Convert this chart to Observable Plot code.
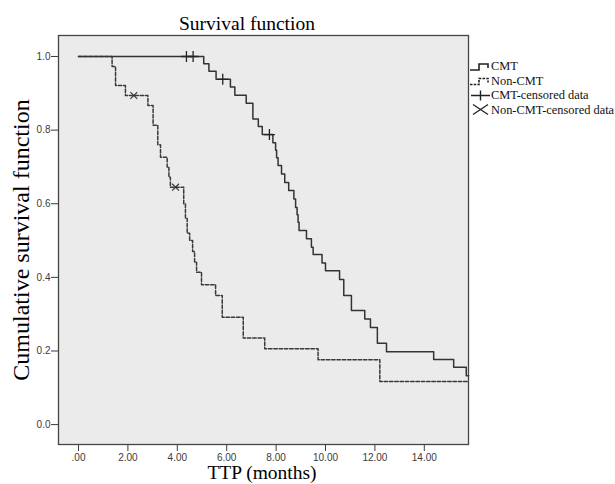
<!DOCTYPE html>
<html>
<head>
<meta charset="utf-8">
<script src="https://cdn.jsdelivr.net/npm/d3@7"></script>
<script src="https://cdn.jsdelivr.net/npm/@observablehq/plot@0.6"></script>
<style>
  html, body { margin: 0; padding: 0; background: #fff; }
  #wrap { position: relative; width: 615px; height: 484px; overflow: hidden; }
  #wrap svg.overlay { position: absolute; left: 0; top: 0; pointer-events: none; }
</style>
</head>
<body>
<div id="wrap"></div>
<script>
// ---- Data ----
const cmtTime = [0, 5.07, 5.28, 5.57, 6.15, 6.33, 6.79, 7.06, 7.28, 7.44, 7.87, 7.98, 8.02, 8.08, 8.22, 8.35, 8.51, 8.72, 8.79, 8.85, 8.89, 8.93, 9.23, 9.43, 9.50, 9.86, 10.0, 10.57, 10.74, 11.05, 11.59, 11.82, 12.1, 12.47, 14.38, 15.19, 15.70, 15.8];
const cmtSurv = [1.0, 0.98, 0.96, 0.938, 0.917, 0.895, 0.873, 0.83, 0.81, 0.788, 0.766, 0.745, 0.725, 0.704, 0.681, 0.658, 0.636, 0.613, 0.59, 0.57, 0.55, 0.527, 0.505, 0.482, 0.462, 0.439, 0.418, 0.394, 0.351, 0.310, 0.287, 0.264, 0.221, 0.198, 0.177, 0.156, 0.133, 0.133];

const nonTime = [0, 1.36, 1.50, 1.90, 2.81, 3.02, 3.21, 3.32, 3.59, 3.66, 3.72, 4.26, 4.33, 4.40, 4.50, 4.62, 4.70, 4.78, 4.98, 5.55, 5.82, 6.67, 7.54, 9.70, 12.2, 15.8];
const nonSurv = [1.0, 0.973, 0.921, 0.894, 0.867, 0.813, 0.76, 0.726, 0.70, 0.672, 0.645, 0.60, 0.56, 0.52, 0.50, 0.47, 0.441, 0.414, 0.380, 0.351, 0.292, 0.235, 0.206, 0.176, 0.117, 0.117];

const cmtCensTime = [4.37, 4.64, 5.84, 7.73];
const cmtCensSurv = [1.0, 1.0, 0.938, 0.788];
const nonCensTime = [2.24, 3.93];
const nonCensSurv = [0.894, 0.645];

const xTicks = [0, 2, 4, 6, 8, 10, 12, 14];
const xTickLabels = [".00", "2.00", "4.00", "6.00", "8.00", "10.00", "12.00", "14.00"];
const yTicks = [0, 0.2, 0.4, 0.6, 0.8, 1.0];
const yTickLabels = ["0.0", "0.2", "0.4", "0.6", "0.8", "1.0"];

const titleText = "Survival function";
const xLabel = "TTP (months)";
const yLabel = "Cumulative survival function";
const legendItems = ["CMT", "Non-CMT", "CMT-censored data", "Non-CMT-censored data"];

// ---- Build tables ----
const cmt = cmtTime.map((t, i) => ({t, s: cmtSurv[i]}));
const non = nonTime.map((t, i) => ({t, s: nonSurv[i]}));
const cmtCens = cmtCensTime.map((t, i) => ({t, s: cmtCensSurv[i]}));
const nonCens = nonCensTime.map((t, i) => ({t, s: nonCensSurv[i]}));

const W = 615, H = 484;
const plot = Plot.plot({
  width: W, height: H,
  marginLeft: 58, marginRight: 147, marginTop: 35, marginBottom: 40,
  style: {background: "transparent", fontFamily: "'Liberation Sans', Arial, sans-serif", fontSize: "10px", color: "#3a3a3a"},
  x: {domain: [-0.81, 15.79], ticks: xTicks, tickFormat: d => xTickLabels[xTicks.indexOf(d)], tickSize: 7, tickPadding: 2, label: null},
  y: {domain: [-0.054, 1.057], ticks: yTicks, tickFormat: d => yTickLabels[yTicks.findIndex(v => Math.abs(v - d) < 1e-9)], tickSize: 7, tickPadding: 1, label: null},
  marks: [
    Plot.frame({fill: "#ebebeb"}),
    Plot.line(non, {x: "t", y: "s", curve: "step-after", stroke: "#3a3a3a", strokeWidth: 1.5, strokeDasharray: "3.5,1.8"}),
    Plot.line(cmt, {x: "t", y: "s", curve: "step-after", stroke: "#333", strokeWidth: 1.5}),
    Plot.dot(cmtCens, {x: "t", y: "s", symbol: "plus", r: 3.6, stroke: "#222", strokeWidth: 1.3}),
    Plot.dot(nonCens, {x: "t", y: "s", symbol: "times", r: 3.2, stroke: "#333", strokeWidth: 1.1}),
    Plot.frame({stroke: "#454545", strokeWidth: 1.3})
  ]
});
const wrap = document.getElementById("wrap");
wrap.appendChild(plot);

// ---- Overlay: title, axis labels, legend ----
const ov = d3.select(wrap).append("svg").attr("class", "overlay").attr("width", W).attr("height", H);
const serif = "'Liberation Serif', 'Times New Roman', serif";

ov.append("text").attr("x", 247).attr("y", 30).attr("text-anchor", "middle")
  .attr("font-family", serif).attr("font-size", 19.5).attr("fill", "#000").text(titleText);
ov.append("text").attr("x", 262).attr("y", 479).attr("text-anchor", "middle")
  .attr("font-family", serif).attr("font-size", 19.5).attr("fill", "#000").text(xLabel);
ov.append("text").attr("transform", "translate(29,240) rotate(-90)").attr("text-anchor", "middle")
  .attr("font-family", serif).attr("font-size", 24).attr("fill", "#000").text(yLabel);

const lg = ov.append("g").attr("font-family", serif).attr("font-size", 12.4).attr("fill", "#111");
const rowY = [70, 84.5, 99, 113.5];
// CMT icon
lg.append("path").attr("d", `M470,${rowY[0]} H479 V${rowY[0]-6} H488 V${rowY[0]-2}`).attr("fill", "none").attr("stroke", "#222").attr("stroke-width", 1.6);
// Non-CMT icon
lg.append("path").attr("d", `M470,${rowY[1]} H479 V${rowY[1]-6} H488 V${rowY[1]-2}`).attr("fill", "none").attr("stroke", "#222").attr("stroke-width", 1.6).attr("stroke-dasharray", "2.5,1.2");
// CMT censored icon
lg.append("path").attr("d", `M471,${rowY[2]-3.5} H490 M480.5,${rowY[2]-8.5} V${rowY[2]+1.5}`).attr("fill", "none").attr("stroke", "#222").attr("stroke-width", 1.4);
// Non-CMT censored icon
lg.append("path").attr("d", `M473,${rowY[3]-9} L488,${rowY[3]+1} M473,${rowY[3]+1} L488,${rowY[3]-9}`).attr("fill", "none").attr("stroke", "#222").attr("stroke-width", 1.3);
legendItems.forEach((s, i) => {
  lg.append("text").attr("x", 491).attr("y", rowY[i]).text(s);
});
</script>
</body>
</html>
